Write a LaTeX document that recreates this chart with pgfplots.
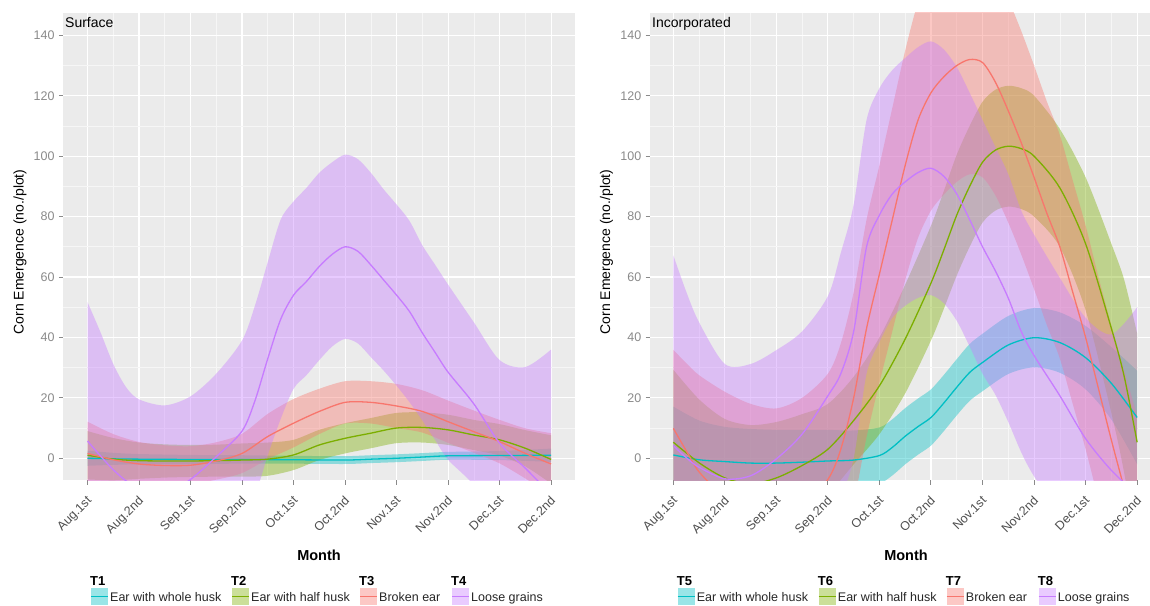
\documentclass[border=0pt]{standalone}
\usepackage{fontspec}
\setmainfont{Liberation Sans}
\usepackage{pgfplots}
\usepackage{pgfplotstable}
\pgfplotsset{compat=1.18}
\usepgfplotslibrary{fillbetween}

\definecolor{ggbg}{HTML}{EBEBEB}
\definecolor{ggred}{HTML}{F8766D}
\definecolor{gggreen}{HTML}{7CAE00}
\definecolor{ggcyan}{HTML}{00BFC4}
\definecolor{ggpurple}{HTML}{C77CFF}
\definecolor{ggtick}{HTML}{8A8A8A}
\definecolor{ggxlab}{HTML}{4D4D4D}

% surface: T1..T4  (x = half-month index, y = fit, lo/hi = band)
\pgfplotstableread{
x y lo hi
1 0.0 -2.5 2.5
1.5 -0.2 -2.2 1.8
2 -0.3 -2.0 1.4
3 -0.4 -1.9 1.1
4 -0.4 -1.8 1.0
5 -0.5 -1.8 0.8
6 -0.6 -1.9 0.7
6.5 -0.3 -1.6 1.0
7 0.0 -1.3 1.3
7.5 0.4 -0.9 1.7
8 0.8 -0.5 2.1
9 0.9 -0.6 2.4
10 1.0 -1.2 3.2
}\sA
\pgfplotstableread{
x y lo hi
1 1.0 -7.0 9.0
1.5 -0.3 -7.3 6.7
2 -0.8 -6.8 5.2
2.5 -0.9 -6.4 4.6
3 -0.9 -6.2 4.4
3.5 -0.8 -6.1 4.5
4 -0.6 -6.1 4.9
4.5 -0.3 -5.8 5.2
5 1.1 -3.9 6.1
5.5 4.4 -0.6 9.4
6 6.6 1.6 11.6
6.5 8.3 3.3 13.3
7 10.0 5.0 15.0
7.5 10.2 5.2 15.2
8 9.4 4.4 14.4
8.5 7.7 2.7 12.7
9 6.1 0.9 11.3
9.5 3.3 -2.7 9.3
10 -0.4 -8.4 7.6
}\sB
\pgfplotstableread{
x y lo hi
1 1.6 -8.9 12.1
1.5 -0.5 -9.0 8.0
2 -1.9 -9.2 5.4
2.5 -2.4 -9.1 4.3
3 -2.3 -8.6 4.0
3.5 -0.9 -7.1 5.3
4 1.6 -4.9 8.1
4.5 7.2 -0.3 14.7
5 11.6 3.6 19.6
5.5 15.5 8.0 23.0
6 18.5 11.5 25.5
6.5 18.5 11.5 25.5
7 17.3 10.0 24.6
7.5 15.5 8.5 22.5
8 12.1 5.1 19.1
8.5 8.8 1.8 15.8
9 5.5 -1.7 12.7
9.5 1.6 -6.7 9.9
10 -1.9 -12.1 8.3
}\sC
\pgfplotstableread{
x y lo hi
1 5.7 -40.3 51.7
1.25 0.8 -40.2 41.8
1.5 -3.8 -38.8 31.2
1.75 -7.5 -38.5 23.5
2 -10.0 -39.5 19.5
2.5 -12.0 -41.5 17.5
3 -7.0 -34.5 20.5
3.5 0.5 -27.0 28.0
4 9.0 -21.0 39.0
4.25 19.0 -12.5 50.5
4.5 33.0 1.0 65.0
4.75 46.0 13.0 79.0
5 54.0 23.0 85.0
5.25 58.5 27.5 89.5
5.5 63.5 32.5 94.5
5.75 67.5 37.0 98.0
6 70.0 39.5 100.5
6.25 68.5 38.0 99.0
6.5 64.0 33.5 94.5
6.75 59.0 29.0 89.0
7 54.0 24.0 84.0
7.25 48.6 18.6 78.6
7.5 41.5 12.5 70.5
7.75 35.0 6.0 64.0
8 28.5 -0.5 57.5
8.5 18.0 -9.0 45.0
9 5.0 -22.5 32.5
9.5 -3.3 -36.8 30.2
10 -12.0 -60.0 36.0
}\sD

% incorporated: T5..T8
\pgfplotstableread{
x y lo hi
1 1.1 -14.9 17.1
1.5 -0.5 -13.5 12.5
2 -1.1 -12.6 10.4
2.5 -1.6 -12.9 9.7
3 -1.6 -12.6 9.4
3.5 -1.3 -12.0 9.4
4 -0.9 -11.2 9.4
4.5 -0.6 -10.4 9.2
5 0.9 -8.4 10.2
5.25 3.6 -5.7 12.9
5.5 7.3 -2.0 16.6
5.75 10.5 1.2 19.8
6 13.5 4.2 22.8
6.25 18.3 9.0 27.6
6.5 23.5 14.2 32.8
6.75 28.4 19.0 37.8
7 31.7 22.2 41.2
7.5 37.5 27.9 47.1
8 39.9 30.1 49.7
8.5 38.3 28.3 48.3
9 33.3 22.8 43.8
9.5 24.8 12.8 36.8
10 13.5 -2.0 29.0
}\iA
\pgfplotstableread{
x y lo hi
1 5.3 -18.7 29.3
1.5 -1.5 -22.5 19.5
2 -6.5 -26.0 13.0
2.5 -8.5 -28.0 11.0
3 -6.5 -25.0 12.0
3.5 -2.4 -19.4 14.6
4 3.0 -12.0 18.0
4.5 12.5 -2.0 27.0
5 24.0 8.0 40.0
5.5 39.5 21.5 57.5
6 58.0 39.0 77.0
6.25 69.0 49.5 88.5
6.5 80.5 60.5 100.5
6.75 90.0 70.0 110.0
7 98.0 78.0 118.0
7.25 102.0 82.0 122.0
7.5 103.3 83.3 123.3
7.75 102.5 82.5 122.5
8 100.0 80.0 120.0
8.5 89.5 70.0 109.0
9 71.0 49.0 93.0
9.5 43.0 15.0 71.0
9.75 27.0 -5.0 59.0
10 5.3 -30.7 41.3
}\iB
\pgfplotstableread{
x y lo hi
1 9.9 -16.1 35.9
1.25 2.5 -26.5 31.5
1.5 -4.5 -36.5 27.5
2 -13.0 -48.0 22.0
2.5 -18.0 -54.0 18.0
3 -19.5 -55.5 16.5
3.5 -16.0 -52.0 20.0
4 -7.0 -42.0 28.0
4.25 3.0 -32.0 38.0
4.5 20.0 -15.0 55.0
4.75 43.0 7.0 79.0
5 61.0 25.0 97.0
5.25 79.0 42.0 116.0
5.5 97.0 59.0 135.0
5.75 112.0 73.0 151.0
6 121.0 82.0 160.0
6.25 126.3 87.3 165.3
6.5 130.0 91.5 168.5
6.75 132.0 94.0 170.0
7 131.0 93.0 169.0
7.25 124.5 87.0 162.0
7.5 115.0 78.0 152.0
7.75 104.5 67.5 141.5
8 93.0 56.0 130.0
8.25 81.0 44.0 118.0
8.5 70.0 33.0 107.0
8.75 55.0 18.0 92.0
9 40.0 3.0 77.0
9.25 23.0 -14.0 60.0
9.5 6.0 -32.0 44.0
9.75 -10.0 -49.0 29.0
10 -26.0 -66.0 14.0
}\iC
\pgfplotstableread{
x y lo hi
1 4.2 -58.8 67.2
1.25 0.2 -54.8 55.2
1.5 -3.0 -51.0 45.0
2 -6.8 -44.8 31.2
2.5 -5.8 -42.8 31.2
3 -0.2 -36.2 35.8
3.5 8.0 -26.0 42.0
4 20.7 -12.3 53.7
4.25 28.0 -12.0 68.0
4.5 42.0 0.0 84.0
4.75 70.0 28.0 112.0
5 80.5 38.5 122.5
5.25 87.5 46.5 128.5
5.5 91.5 50.5 132.5
5.75 94.6 53.1 136.1
6 96.0 54.0 138.0
6.25 93.3 51.3 135.3
6.5 87.5 45.5 129.5
6.75 79.0 37.0 121.0
7 70.0 28.0 112.0
7.25 62.0 21.0 103.0
7.5 53.0 12.0 94.0
7.75 42.0 2.0 82.0
8 34.0 -6.0 74.0
8.5 20.7 -18.3 59.7
9 6.5 -33.5 46.5
9.5 -4.0 -49.0 41.0
10 -12.0 -74.0 50.0
}\iD

% one smoother: band then line
\newcommand{\smoothband}[3]{%
  \addplot[name path=#3hi, draw=none, smooth] table[x=x,y=hi]{#1};
  \addplot[name path=#3lo, draw=none, smooth] table[x=x,y=lo]{#1};
  \addplot[fill=#2, fill opacity=0.4, draw=none] fill between[of=#3hi and #3lo];
  \addplot[#2, line width=1.3pt, smooth] table[x=x,y=y]{#1};
}

\pgfplotsset{
  ggpanel/.style={
    scale only axis, width=512pt, height=467pt,
    anchor=south west,
    ymin=-7.2, ymax=147.4,
    axis background/.style={fill=ggbg},
    axis line style={draw=none},
    grid=both,
    major grid style={white, line width=1.1pt},
    minor grid style={white!55!ggbg, line width=0.6pt},
    xtick={1,...,10}, minor xtick={1.5,2.5,...,9.5},
    xticklabels={Aug.1st,Aug.2nd,Sep.1st,Sep.2nd,Oct.1st,Oct.2nd,Nov.1st,Nov.2nd,Dec.1st,Dec.2nd},
    ytick={0,20,...,140}, minor ytick={10,30,...,130},
    tick pos=left, tick align=outside,
    major tick length=4.5pt, minor tick length=0pt,
    major tick style={ggtick, line width=1pt},
    /pgf/number format/assume math mode=true,
    xticklabel style={yshift=-9pt, xshift=-1.5pt, rotate=45, anchor=north east,
      inner sep=1pt, font=\fontsize{12.5}{14}\selectfont, text=ggxlab},
    yticklabel style={xshift=-2pt, font=\fontsize{12.5}{14}\selectfont,
      text=ggtick, inner sep=2pt},
  },
}

\begin{document}
\begin{tikzpicture}

\begin{axis}[ggpanel, at={(63.3pt,125pt)}, xmin=0.53, xmax=10.47]
  \smoothband{\sA}{ggcyan}{sa}
  \smoothband{\sB}{gggreen}{sb}
  \smoothband{\sC}{ggred}{sc}
  \smoothband{\sD}{ggpurple}{sd}
\end{axis}

\begin{axis}[ggpanel, at={(650pt,125pt)}, width=500pt, xmin=0.548, xmax=10.25]
  \smoothband{\iA}{ggcyan}{ia}
  \smoothband{\iB}{gggreen}{ib}
  \smoothband{\iC}{ggred}{ic}
  \smoothband{\iD}{ggpurple}{id}
\end{axis}

\begin{scope}[x=1pt,y=1pt]
% panel titles
\node[anchor=base west, inner sep=0, font=\fontsize{14}{16}\selectfont] at (65,577) {Surface};
\node[anchor=base west, inner sep=0, font=\fontsize{14}{16}\selectfont] at (652,577) {Incorporated};

% axis titles
\node[rotate=90, font=\fontsize{14}{16}\selectfont] at (20,353) {Corn Emergence (no./plot)};
\node[rotate=90, font=\fontsize{14}{16}\selectfont] at (606.5,353) {Corn Emergence (no./plot)};
\node[font=\bfseries\fontsize{14.5}{16}\selectfont] at (319,50) {Month};
\node[font=\bfseries\fontsize{14.5}{16}\selectfont] at (906,50) {Month};

% legends
\foreach \L/\a/\b/\c/\d in {0/T1/T2/T3/T4, 586.7/T5/T6/T7/T8} {
  \foreach \dx/\col/\ttl/\lab in {0/ggcyan/\a/Ear with whole husk,
                                141/gggreen/\b/Ear with half husk,
                                269/ggred/\c/Broken ear,
                                361/ggpurple/\d/Loose grains} {
    \pgfmathsetmacro{\xx}{90+\L+\dx}
    \node[anchor=base west, inner sep=0, font=\bfseries\fontsize{13}{15}\selectfont] at (\xx,20) {\ttl};
    \fill[\col, fill opacity=0.4] (\xx+1,0) rectangle (\xx+18,17);
    \draw[\col, line width=1.4pt] (\xx+1,8.5) -- (\xx+18,8.5);
    \node[anchor=base west, inner sep=0, text=black!85, font=\fontsize{12.5}{14}\selectfont] at (\xx+20,3.5) {\lab};
  }
}
\end{scope}
\pgfresetboundingbox
\path[use as bounding box] (0pt,0pt) rectangle (1150pt,605pt);
\end{tikzpicture}
\end{document}
